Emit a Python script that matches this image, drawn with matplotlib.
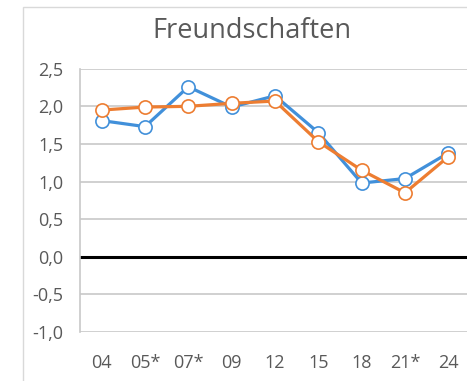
import matplotlib
matplotlib.use("Agg")
import matplotlib.pyplot as plt
from matplotlib.patches import Rectangle

# Survey waves and mean scores
waves = ["04", "05*", "07*", "09", "12", "15", "18", "21*", "24"]
series_blue = [1.81, 1.73, 2.26, 1.99, 2.14, 1.65, 0.98, 1.04, 1.38]
series_orange = [1.95, 1.99, 2.00, 2.04, 2.07, 1.53, 1.15, 0.85, 1.33]
y_ticks = [-1.0, -0.5, 0.0, 0.5, 1.0, 1.5, 2.0, 2.5]
y_tick_labels = ["-1,0", "-0,5", "0,0", "0,5", "1,0", "1,5", "2,0", "2,5"]
title = "Freundschaften"

W, H = 467, 381
fig = plt.figure(figsize=(W / 100, H / 100), dpi=100)
plt.rcParams["font.family"] = ["Open Sans", "DejaVu Sans"]
text_color = "#595959"
grid_color = "#C8C8C8"

# chart frame
fig.patches.append(Rectangle((23 / W, -0.1), 1.2, 1 - 7 / H + 0.1,
                             transform=fig.transFigure, fill=False,
                             edgecolor="#D9D9D9", lw=1.0))

left, right = 80 / W, 470 / W
top, bottom = 1 - 68.7 / H, 1 - 332 / H
ax = fig.add_axes([left, bottom, right - left, top - bottom])

x = list(range(len(waves)))
ax.set_xlim(-0.5, len(waves) - 0.5)
ax.set_ylim(-1.0, 2.5)

for yv in y_ticks:
    if yv != 0.0:
        ax.axhline(yv, color=grid_color, lw=1.2, zorder=1)
ax.axhline(0.0, color="black", lw=2.2, zorder=2)

for s in ["top", "right", "bottom"]:
    ax.spines[s].set_visible(False)
ax.spines["left"].set_color(grid_color)
ax.spines["left"].set_linewidth(1.2)

ax.plot(x, series_blue, color="#4190DA", lw=2.3, marker="o", ms=9.5,
        mfc="white", mec="#4190DA", mew=1.2, zorder=3)
ax.plot(x, series_orange, color="#ED7D31", lw=2.3, marker="o", ms=9.5,
        mfc="white", mec="#ED7D31", mew=1.2, zorder=4)

ax.set_xticks(x)
ax.set_xticklabels(waves)
ax.set_yticks(y_ticks)
ax.set_yticklabels(y_tick_labels)
ax.tick_params(axis="both", length=0, labelsize=13, colors=text_color)
ax.tick_params(axis="x", pad=16)
ax.tick_params(axis="y", pad=12)

fig.text(252 / W, 1 - 31 / H, title, ha="center", va="center",
         fontsize=19.5, color=text_color)

fig.savefig("out.png", dpi=100)
